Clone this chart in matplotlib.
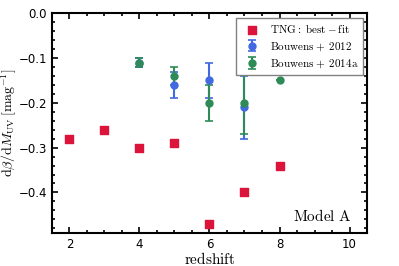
import matplotlib
matplotlib.use('Agg')
import matplotlib.pyplot as plt
from matplotlib.ticker import MultipleLocator

plt.rcParams['mathtext.fontset'] = 'cm'
plt.rcParams['font.size'] = 8

# TNG best-fit slopes
z_tng = [2, 3, 4, 5, 6, 7, 8]
slope_tng = [-0.28, -0.26, -0.30, -0.29, -0.47, -0.40, -0.34]

# Bouwens+2012
z_b12 = [4, 5, 6, 7]
slope_b12 = [-0.11, -0.16, -0.15, -0.21]
err_b12 = [0.01, 0.03, 0.04, 0.07]

# Bouwens+2014a
z_b14 = [4, 5, 6, 7, 8]
slope_b14 = [-0.11, -0.14, -0.20, -0.20, -0.15]
err_b14 = [0.01, 0.02, 0.04, 0.07, 0.0]

fig = plt.figure(figsize=(3.99, 2.66), dpi=100)
ax = fig.add_axes([0.13, 0.125, 0.79, 0.825])

ax.scatter(z_tng, slope_tng, marker='s', s=30, color='crimson', zorder=3,
           label=r'$\mathrm{TNG:\ best-fit}$')
ax.errorbar(z_b12, slope_b12, yerr=err_b12, fmt='o', ms=5, color='royalblue',
            capsize=3, elinewidth=1.5, capthick=1.2, label=r'$\mathrm{Bouwens+\ 2012}$')
ax.errorbar(z_b14, slope_b14, yerr=err_b14, fmt='o', ms=5, color='seagreen',
            capsize=3, elinewidth=1.5, capthick=1.2, label=r'$\mathrm{Bouwens+\ 2014a}$')

ax.set_xlim(1.5, 10.5)
ax.set_ylim(-0.49, 0.0)
ax.xaxis.set_major_locator(MultipleLocator(2))
ax.xaxis.set_minor_locator(MultipleLocator(0.5))
ax.yaxis.set_major_locator(MultipleLocator(0.1))
ax.yaxis.set_minor_locator(MultipleLocator(0.02))
ax.tick_params(which='both', direction='in', top=True, right=True, width=1.2)
ax.tick_params(which='major', length=4, labelsize=8.5)
ax.tick_params(which='minor', length=2)
for s in ax.spines.values():
    s.set_linewidth(1.5)

ax.set_xlabel(r'$\mathrm{redshift}$', fontsize=11, labelpad=0)
ax.set_ylabel(r'$\mathrm{d}\beta/\mathrm{d}M_{\rm UV}\,[\mathrm{mag}^{-1}]$', fontsize=10, labelpad=0)
ax.text(0.95, 0.04, r'$\mathrm{Model\ A}$', transform=ax.transAxes, ha='right',
        va='bottom', fontsize=11)

leg = ax.legend(loc='upper right', fontsize=8, fancybox=False, framealpha=1,
                edgecolor='gray', borderaxespad=0.4, labelspacing=0.45,
                handletextpad=0.6)

fig.savefig('out.png', dpi=100)
